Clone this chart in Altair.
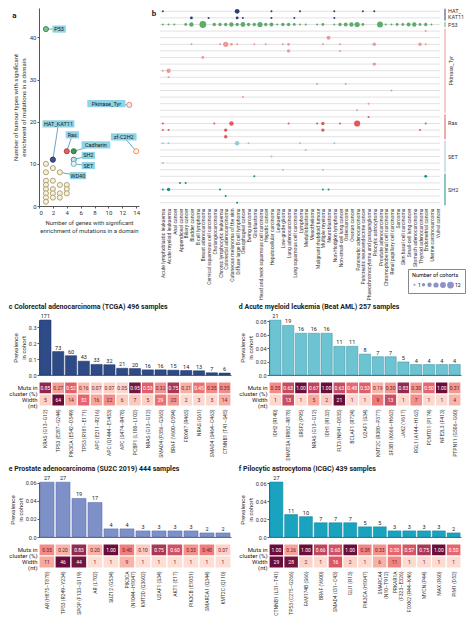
import altair as alt
import pandas as pd

FONT = "Roboto"

# ---------------- panel a data ----------------
a_names = ["P53", "Pkinase_Tyr", "zf-C2H2", "HAT_KAT11", "Ras", "Cadherin", "SH2", "SET", "WD40"]
a_genes = [1, 13, 14, 2, 4, 5, 5, 5, 3]
a_types = [42, 24, 13, 11, 13, 13, 11, 10, 8]
a_label_x = [2.9, 9.7, 12.2, 2.8, 4.8, 8.2, 7.1, 7.1, 5.6]
a_label_y = [42, 24.3, 16.4, 19.5, 16.9, 14.5, 12.0, 9.6, 7.2]
a_other_genes = [1, 1, 1, 1, 1, 1, 1, 1, 2, 2, 2, 2, 2, 3, 3, 3, 4, 4, 4]
a_other_types = [10, 8, 6, 5, 4, 3, 2, 1, 9, 6, 4, 3, 2, 5, 3, 2, 5, 4, 3]

# styles for panel a (by domain name, then "other")
a_fill_colors = ["#7cc08a", "#fde8e4", "#fff4ec", "#3d5596", "#e2625d", "#3f9a55", "#bfe6ec", "#e6f2f6", "#f6f1dc", "#f6f1dc"]
a_stroke_colors = ["#3f7f4f", "#e07a74", "#e8875a", "#1e2f5c", "#a83a38", "#2a6b3a", "#1f8fa0", "#6aa8c0", "#a8996a", "#a8996a"]

# ---------------- panel b data ----------------
b_genes = ["CREBBP", "EP300", "TP53", "ABL2", "ALK", "BRAF", "EGFR", "ERBB2", "FGFR1", "FLT3", "JAK2", "KIT", "MET",
           "NTRK1", "RET", "TGFBR2", "HRAS", "KRAS", "NRAS", "RAC1", "EZH2", "KMT2D", "NSD1", "NSD2", "SETD2",
           "PIK3R1", "PLCG1", "PTPN11", "PTPN6", "STAT3"]
b_gene_domain = ["HAT_KAT11"] * 2 + ["P53"] + ["Pkinase_Tyr"] * 13 + ["Ras"] * 4 + ["SET"] * 5 + ["SH2"] * 5
b_groups = ["HAT_KAT11", "P53", "Pkinase_Tyr", "Ras", "SET", "SH2"]
b_group_labels = ["HAT_|KAT11", "P53", "Pkinase_Tyr", "Ras", "SET", "SH2"]
b_group_colors = ["#2b3f73", "#5aae6a", "#eb9a96", "#e0595a", "#9cc5d6", "#138f86"]

cancer_types = ["Acute lymphoblastic leukaemia", "Acute myeloid leukaemia", "Anal cancer", "Appendiceal cancer",
                "Biliary cancer", "Bladder cancer", "B cell lymphoma", "Breast adenocarcinoma",
                "Cervical squamous cell carcinoma", "Cholangiocarcinoma", "Chronic lymphocytic leukaemia",
                "Colorectal adenocarcinoma", "Cutaneous melanoma of the skin", "Diffuse large B cell lymphoma",
                "Oesophageal cancer", "Ewing sarcoma", "Glioblastoma", "Head and neck squamous cell carcinoma",
                "Hepatic cancer", "Hepatocellular carcinoma", "Leukaemia", "Low-grade glioma",
                "Lung adenocarcinoma", "Lung squamous cell carcinoma", "Lymphoma", "Medulloblastoma",
                "Mesothelioma", "Malignant rhabdoid tumour", "Multiple myeloma", "Neuroblastoma",
                "Non-Hodgkin lymphoma", "Non-small-cell lung cancer", "Osteosarcoma", "Ovarian cancer",
                "Pancreatic adenocarcinoma", "Pancreatic neuroendocrine cancer",
                "Phaeochromocytoma and paraganglioma", "Pilocytic astrocytoma", "Prostate adenocarcinoma",
                "Chromophobe renal cell carcinoma", "Renal papillary cell carcinoma", "Sarcoma",
                "Skin basal cell carcinoma", "Small-cell lung cancer", "Stomach adenocarcinoma",
                "Thyroid adenocarcinoma", "Endometrial cancer", "Uterine carcinosarcoma", "Vulval cancer"]

dot_cols = [
    [0, 13, 19, 24, 30, 35, 37],
    [5, 8, 13, 14, 19, 23, 30],
    [0, 1, 2, 4, 5, 7, 9, 10, 11, 12, 13, 14, 15, 16, 17, 18, 19, 20, 21, 22, 23, 24, 25, 27, 28, 30, 31, 32,
     33, 34, 35, 38, 39, 40, 41, 42, 43, 44, 45, 46, 47],
    [46],
    [29],
    [5, 10, 11, 12, 13, 16, 18, 21, 22, 28, 31, 37, 45, 46],
    [22, 31],
    [7],
    [37],
    [0, 1],
    [1],
    [27, 32],
    [40],
    [14],
    [36],
    [34],
    [36],
    [0, 9, 12, 22, 27, 28, 31, 34, 46],
    [0, 1, 11, 28, 45],
    [11],
    [0, 1, 13, 15, 24, 30],
    [25],
    [19],
    [0],
    [21, 28],
    [16, 46],
    [3, 4],
    [0, 1, 10, 28, 29],
    [11],
    [13],
]
dot_counts = [
    [1, 6, 1, 1, 1, 1, 1],
    [2, 1, 2, 1, 1, 1, 1],
    [1, 1, 1, 2, 5, 12, 3, 3, 3, 5, 3, 6, 3, 3, 7, 3, 4, 1, 3, 3, 2, 1, 1, 1, 2, 1, 3, 4, 5, 7, 2, 9, 1, 1, 2,
     2, 4, 5, 2, 3, 1],
    [1],
    [4],
    [1, 1, 7, 2, 1, 1, 1, 1, 2, 1, 1, 3, 3, 1],
    [3, 1],
    [2],
    [3],
    [1, 5],
    [1],
    [1, 1],
    [1],
    [1],
    [1],
    [1],
    [1],
    [1, 1, 5, 1, 1, 3, 1, 10, 1],
    [1, 1, 3, 3, 1],
    [3],
    [1, 1, 5, 1, 1, 1],
    [1],
    [1],
    [1],
    [1, 1],
    [1, 2],
    [1, 1],
    [1, 3, 1, 1, 1],
    [1],
    [1],
]

# ---------------- panels c-f data ----------------
c_labels = ["KRAS (G13–G12)", "TP53 (E287–G244)", "PIK3CA (E542–D549)", "TP53 (R181–E171)", "APC (E211–R216)",
            "APC (Q1444–E1453)", "APC (S474–R478)", "PCBP1 (L100–L102)", "NRAS (G13–G12)", "SMAD4 (P356–G365)",
            "BRAF (V600–D594)", "FBXW7 (R465)", "NRAS (Q61)", "SMAD4 (S464–C463)", "CTNNB1 (T41–S45)"]
c_counts = [171, 73, 60, 43, 33, 32, 21, 20, 16, 16, 15, 14, 13, 7, 6]
c_muts = [0.85, 0.27, 0.52, 0.16, 0.07, 0.07, 0.05, 0.95, 0.53, 0.32, 0.75, 0.21, 0.45, 0.35, 0.35]
c_widths = [5, 64, 14, 32, 16, 22, 6, 7, 5, 29, 20, 2, 3, 3, 14]

d_labels = ["IDH2 (R140)", "DNMT3A (R882–R878)", "SRSF2 (P95)", "NRAS (G13–G12)", "IDH1 (R132)",
            "FLT3 (N841–D835)", "BCLAF1 (R724)", "U2AF1 (S34)", "KMT2C (R380–P377)", "SF3B1 (K666–H662)",
            "JAK2 (V617)", "RGL1 (A144–H162)", "PCMTD1 (P174)", "NFE2L3 (F413)", "PTPN11 (G506–G60)"]
d_counts = [21, 19, 16, 16, 16, 11, 11, 8, 7, 7, 5, 4, 4, 4, 4]
d_muts = [0.35, 0.63, 1.00, 0.67, 1.00, 0.63, 0.48, 0.53, 0.19, 0.30, 0.83, 0.30, 0.50, 1.00, 0.31]
d_widths = [1, 13, 1, 5, 2, 21, 1, 1, 9, 13, 1, 7, 1, 1, 4]

e_labels = ["AR (H875–T878)", "TP53 (R249–Y234)", "SPOP (F133–S119)", "AR (L702)", "SUZ12 (G534)",
            "PIK3CA|(N1044–H1047)", "KMT2D (Q3602)", "U2AF1 (S34)", "AKT1 (E17)", "PIK3CB (E1051)",
            "SMARCA1 (Q344)", "KMT2C (Q110)"]
e_counts = [27, 27, 19, 17, 4, 4, 3, 3, 3, 3, 2, 2]
e_muts = [0.35, 0.20, 0.83, 0.20, 1.00, 0.40, 0.10, 0.75, 0.60, 0.33, 0.40, 0.07]
e_widths = [11, 46, 44, 1, 1, 9, 1, 1, 1, 1, 1, 1]

f_labels = ["CTNNB1 (L31–T41)", "TP53 (C275–G266)", "FAM174B (S66)", "BRAF (V600)", "SMAD4 (I31–C43)",
            "GLI1 (R13)", "PIK3CA (H1047)", "SMARCA4|(N10–T912)", "PRKAR1A|(F323–E326)", "FOXK2 (R44–K46)",
            "MYCN (P44)", "MAX (R60)", "PIM1 (D52)"]
f_counts = [27, 11, 10, 7, 7, 7, 5, 5, 3, 3, 3, 3, 2]
f_muts = [1.00, 0.26, 1.00, 0.66, 0.60, 1.00, 0.38, 0.33, 0.50, 0.57, 0.75, 1.00, 0.50]
f_widths = [29, 28, 2, 1, 16, 2, 1, 6, 11, 1, 1, 1, 1]

HEAT = ["#fde3db", "#e8636b", "#6a0d3a"]

# ================= panel a =================
A_W, A_H = 100, 198
df_pts = pd.DataFrame({
    "x": a_genes + a_other_genes,
    "y": a_types + a_other_types,
    "dom": a_names + ["other"] * len(a_other_genes),
})
df_rules = pd.DataFrame({"x": a_genes, "y": a_types, "x2": a_label_x, "y2": a_label_y})
BOX_SIZE = 100  # symbol size -> half side 5 px per path unit
half_unit = (BOX_SIZE ** 0.5) / 2


def box_path(text):
    hw = (len(text) * 3.1 + 4) / 2 / half_unit
    hh = 3.6 / half_unit
    return f"M{-hw:.3f},{-hh:.3f}L{hw:.3f},{-hh:.3f}L{hw:.3f},{hh:.3f}L{-hw:.3f},{hh:.3f}Z"


df_labs = pd.DataFrame({"x": a_label_x, "y": a_label_y, "label": a_names,
                        "shape": [box_path(t) for t in a_names]})

xa = alt.X("x:Q", scale=alt.Scale(domain=[0, 14.4], nice=False),
           axis=alt.Axis(values=list(range(0, 15, 2)), grid=False, tickSize=2, labelPadding=1,
                         title=["Number of genes with significant", "enrichment of mutations in a domain"]))
ya = alt.Y("y:Q", scale=alt.Scale(domain=[0, 47], nice=False),
           axis=alt.Axis(values=[0, 10, 20, 30, 40], grid=False, tickSize=2, labelPadding=1, titlePadding=3,
                         title=["Number of tumour types with significant", "enrichment of mutations in a domain"]))

a_rules = alt.Chart(df_rules).mark_rule(color="#2f7fa8", strokeWidth=0.7).encode(x=xa, y=ya, x2="x2:Q", y2="y2:Q")
a_points = alt.Chart(df_pts).mark_circle(size=26, opacity=1, strokeWidth=0.9).encode(
    x=xa, y=ya,
    fill=alt.Fill("dom:N", scale=alt.Scale(domain=a_names + ["other"], range=a_fill_colors), legend=None),
    stroke=alt.Stroke("dom:N", scale=alt.Scale(domain=a_names + ["other"], range=a_stroke_colors), legend=None),
)
a_boxes = alt.Chart(df_labs).mark_point(filled=True, size=BOX_SIZE, color="#8ed4e6", opacity=1).encode(
    x=xa, y=ya, shape=alt.Shape("shape:N", scale=None))
a_texts = alt.Chart(df_labs).mark_text(fontSize=5.5, color="#1a1a1a").encode(x=xa, y=ya, text="label:N")

chart_a = alt.layer(a_rules, a_points, a_boxes, a_texts).properties(
    width=A_W, height=A_H,
    title=alt.TitleParams("a", anchor="start", fontSize=8, fontWeight="bold", dy=16, frame="bounds"))

# ================= panel b =================
B_W, B_H = 280, 198
rows = []
for g, grp, cols, ns in zip(b_genes, b_gene_domain, dot_cols, dot_counts):
    for c, n in zip(cols, ns):
        rows.append({"gene": g, "group": grp, "cancer": cancer_types[c], "n": n})
df_dots = pd.DataFrame(rows)

yb = alt.Y("gene:N", scale=alt.Scale(domain=b_genes, paddingInner=0, paddingOuter=0),
           axis=alt.Axis(title=None, labelFontStyle="italic", labelFontSize=5.5, ticks=False, domain=False,
                         labelPadding=2))
xb = alt.X("cancer:N", scale=alt.Scale(domain=cancer_types),
           axis=alt.Axis(title=None, labelAngle=-90, labelFontSize=5, ticks=False, domain=False,
                         labelPadding=2, labelLimit=200))
col_b = alt.Color("group:N", scale=alt.Scale(domain=b_groups, range=b_group_colors), legend=None)

b_grid = alt.Chart(pd.DataFrame({"gene": b_genes})).mark_rule(color="#cfcfcf", strokeWidth=0.6).encode(y=yb)
b_dots = alt.Chart(df_dots).mark_circle(opacity=1).encode(
    x=xb, y=yb, color=col_b,
    size=alt.Size("n:Q", scale=alt.Scale(domain=[1, 12], range=[4, 46]),
                  legend=alt.Legend(title="Number of cohorts", orient="none", legendX=B_W - 32,
                                    legendY=B_H + 63, direction="horizontal", values=[1, 3, 5, 7, 9, 12],
                                    labelExpr="datum.value == 1 || datum.value == 12 ? datum.label : ''",
                                    symbolFillColor="#8d92c9", symbolStrokeColor="#8d92c9",
                                    symbolStrokeWidth=0, strokeColor="#888", padding=4,
                                    titleFontSize=5.5, labelFontSize=5, titleFontWeight="normal",
                                    columnPadding=0, labelOffset=1, symbolOffset=0, titlePadding=3)),
)

first_g, last_g, mid_g = [], [], []
for grp in b_groups:
    gl = [g for g, d in zip(b_genes, b_gene_domain) if d == grp]
    first_g.append(gl[0])
    last_g.append(gl[-1])
    mid_g.append(gl[(len(gl) - 1) // 2])
df_br = pd.DataFrame({"group": b_groups, "first": first_g, "last": last_g, "mid": mid_g,
                      "text": b_group_labels, "even": [len([d for d in b_gene_domain if d == g]) % 2 == 0
                                                       for g in b_groups]})
b_scale = alt.Scale(domain=b_genes, paddingInner=0, paddingOuter=0)
b_brackets = alt.Chart(df_br).mark_rule(strokeWidth=1, yOffset=-2.6, y2Offset=2.6).encode(
    y=alt.Y("first:N", scale=b_scale, axis=None),
    y2="last:N", x=alt.value(B_W + 5), color=col_b)
ymid = alt.Y("mid:N", scale=b_scale, axis=None)
b_lab_even = alt.Chart(df_br).transform_filter("datum.even && datum.group != 'Pkinase_Tyr'").mark_text(
    align="left", baseline="top", fontSize=5.5, color="#333", lineBreak="|", dy=-2.6, lineHeight=6).encode(
    y=ymid, x=alt.value(B_W + 8), text="text:N")
b_lab_odd = alt.Chart(df_br).transform_filter("!datum.even && datum.group != 'Pkinase_Tyr'").mark_text(
    align="left", baseline="middle", fontSize=5.5, color="#333").encode(
    y=ymid, x=alt.value(B_W + 8), text="text:N")
b_lab_rot = alt.Chart(df_br).transform_filter("datum.group == 'Pkinase_Tyr'").mark_text(
    align="center", baseline="middle", fontSize=5.5, color="#333", angle=270).encode(
    y=ymid, x=alt.value(B_W + 11), text="text:N")

chart_b = alt.layer(b_grid, b_dots, b_brackets, b_lab_even, b_lab_odd, b_lab_rot).properties(
    width=B_W, height=B_H,
    title=alt.TitleParams("b", anchor="start", fontSize=8, fontWeight="bold", dy=14, dx=-8, frame="bounds"))

# ================= panels c-f =================
PW = 192
ROW_M = "Muts in|cluster (%)"
ROW_W = "Width|(nt)"


def make_panel(title, labels, counts, total, muts, widths, bar_color, bar_stroke, ymax, yticks, yfmt):
    n = len(labels)
    dfb = pd.DataFrame({"label": labels, "count": counts})
    dfb["prev"] = dfb["count"] / total
    x_bar = alt.X("label:N", sort=labels, scale=alt.Scale(domain=labels, paddingInner=0.12, paddingOuter=0.06),
                  axis=alt.Axis(labels=False, ticks=False, title=None, domain=True, domainColor="#444",
                                domainWidth=0.8))
    y_bar = alt.Y("prev:Q", scale=alt.Scale(domain=[0, ymax], nice=False),
                  axis=alt.Axis(values=yticks, grid=False, tickSize=2, labelPadding=1, titlePadding=2,
                                labelExpr=f"datum.value == 0 ? '0.0' : format(datum.value, '{yfmt}')",
                                title=["Prevalence", "in cohort"], labelFontSize=5.5))
    bars = alt.Chart(dfb).mark_bar(color=bar_color, stroke=bar_stroke, strokeWidth=0.5).encode(x=x_bar, y=y_bar)
    nums = alt.Chart(dfb).mark_text(dy=-1, baseline="bottom", fontSize=5.5, color="#222").encode(
        x=x_bar, y=y_bar, text="count:Q")
    top = alt.layer(bars, nums).properties(width=PW, height=55)

    rws = [ROW_M, ROW_W]
    wmax = max(widths)
    dfh = pd.DataFrame({
        "label": list(labels) * 2,
        "row": [ROW_M] * n + [ROW_W] * n,
        "cval": list(muts) + [w / wmax for w in widths],
        "txt": [f"{m:.2f}" for m in muts] + [str(w) for w in widths],
    })
    x_heat = alt.X("label:N", sort=labels, scale=alt.Scale(domain=labels, paddingInner=0, paddingOuter=0),
                   axis=alt.Axis(title=None, labelAngle=-90, labelExpr="split(datum.label, '|')", ticks=False,
                                 domain=False, labelFontSize=5, labelPadding=3, labelLineHeight=6))
    y_heat = alt.Y("row:N", sort=rws, scale=alt.Scale(domain=rws, paddingInner=0, paddingOuter=0),
                   axis=alt.Axis(title=None, ticks=False, domain=False, labelExpr="split(datum.label, '|')",
                                 labelFontSize=6, labelLineHeight=6, labelPadding=2, labelColor="#222"))
    cells = alt.Chart(dfh).mark_rect(stroke="white", strokeWidth=1.2).encode(
        x=x_heat, y=y_heat,
        color=alt.Color("cval:Q", scale=alt.Scale(domain=[0, 0.5, 1], range=HEAT), legend=None))
    ctext = alt.Chart(dfh).mark_text(fontSize=5).encode(
        x=x_heat, y=y_heat, text="txt:N",
        color=alt.condition(alt.datum.cval >= 0.45, alt.value("white"), alt.value("#7a1535")))
    heat = alt.layer(cells, ctext).properties(width=PW, height=24)
    return alt.vconcat(top, heat, spacing=2,
                       title=alt.TitleParams(title, anchor="start", fontSize=7, fontWeight="bold",
                                             offset=4, frame="bounds")).resolve_scale(
        x="independent", y="independent", color="independent")


pc = make_panel("c  Colorectal adenocarcinoma (TCGA) 496 samples", c_labels, c_counts, 496, c_muts, c_widths,
                "#2e4b87", "#1f3566", 0.345, [0, 0.1, 0.2, 0.3], ".1f")
pd_ = make_panel("d  Acute myeloid leukemia (Beat AML) 257 samples", d_labels, d_counts, 257, d_muts, d_widths,
                 "#6cc3d2", "#3d8fa0", 0.082, [0, 0.02, 0.04, 0.06, 0.08], ".2f")
pe = make_panel("e  Prostate adenocarcinoma (SU2C 2019) 444 samples", e_labels, e_counts, 444, e_muts, e_widths,
                "#7e90c8", "#5b6ea8", 0.061, [0, 0.02, 0.04, 0.06], ".2f")
pf = make_panel("f  Pilocytic astrocytoma (ICGC) 439 samples", f_labels, f_counts, 439, f_muts, f_widths,
                "#1aa3bf", "#12809a", 0.0615, [0, 0.02, 0.04, 0.06], ".2f")

ind = dict(x="independent", y="independent", color="independent", size="independent",
           fill="independent", stroke="independent", shape="independent")
row1 = alt.hconcat(chart_a, chart_b, spacing=10).resolve_scale(**ind)
row2 = alt.hconcat(pc, pd_, spacing=6).resolve_scale(**ind)
row3 = alt.hconcat(pe, pf, spacing=6).resolve_scale(**ind)

chart = alt.vconcat(row1, row2, row3, spacing=3).resolve_scale(**ind).properties(
    padding=0, background="white"
).configure(font=FONT).configure_view(stroke=None).configure_axis(
    labelFont=FONT, titleFont=FONT, labelColor="#333", titleColor="#333", titleFontWeight="normal",
    labelFontSize=6, titleFontSize=6, domainColor="#555", tickColor="#555"
).configure_title(font=FONT, color="#222").configure_legend(labelFont=FONT, titleFont=FONT)

chart.save("out.html", embed_options={"renderer": "svg", "actions": False})
